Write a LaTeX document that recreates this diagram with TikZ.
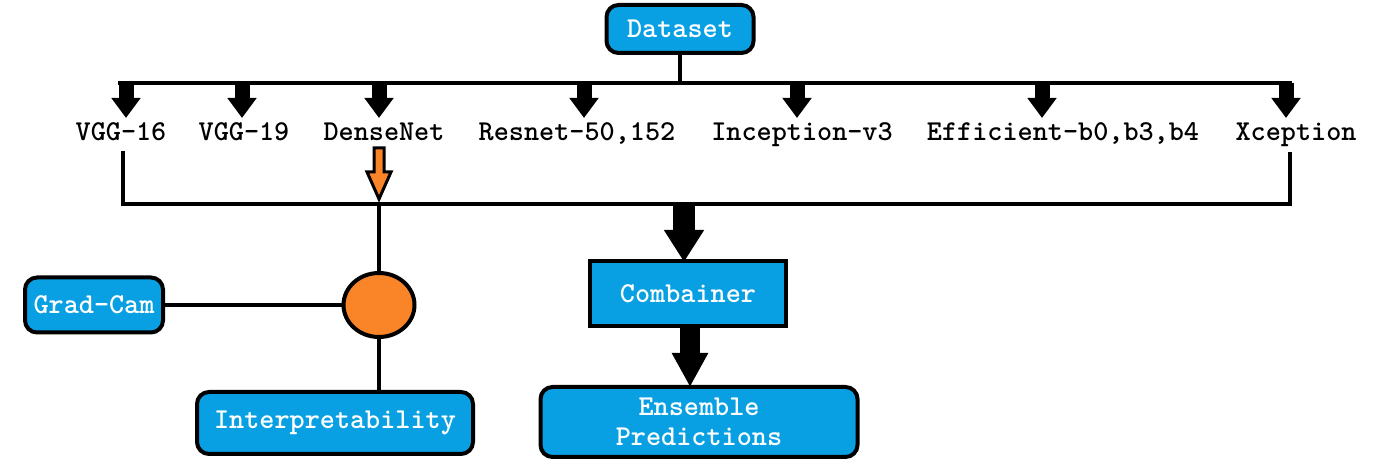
\documentclass[tikz,border=0pt]{standalone}
\usepackage{fontspec}
\usetikzlibrary{arrows.meta,shapes.geometric}
\definecolor{boxblue}{RGB}{8,160,226}
\definecolor{dotorange}{RGB}{250,132,40}
\begin{document}
\begin{tikzpicture}[x=0.5pt,y=-0.5pt,
  txt/.style={font=\ttfamily\bfseries\fontsize{14.4}{15}\selectfont},
  lbl/.style={txt, inner sep=0pt, minimum height=16pt, text height=9pt, text depth=2.5pt, anchor=north},
  bluebox/.style={txt, draw=black, line width=2pt, fill=boxblue, text=white, rounded corners=6pt, inner sep=0pt, align=center},
  thin/.style={line width=1.6pt},
  bigarrow/.style={line width=7.5pt, -{Triangle[width=14pt,length=10pt]}}
]
\useasboundingbox (0,0) rectangle (1400,474);

% top
\node[bluebox, minimum width=73.5pt, minimum height=24pt] (data) at (680,29) {Dataset};
\coordinate (b0) at (118,83);
\coordinate (b1) at (1292,83);
\draw[thin] (data.south) -- (data.south |- b0);
\draw[line width=2pt] (b0) -- (b1);

% model labels
\node[lbl] (v16) at (121,118) {VGG-16};
\node[lbl] (v19) at (244,118) {VGG-19};
\node[lbl] (dn) at (384,118) {DenseNet};
\node[lbl] (rn) at (577,118) {Resnet-50,152};
\node[lbl] (inc) at (802,118) {Inception-v3};
\node[lbl] (eff) at (1063,118) {Efficient-b0,b3,b4};
\node[lbl] (xc) at (1296,118) {Xception};

\foreach \xx/\nn in {126/v16, 242/v19, 379/dn, 584/rn, 797/inc, 1042/eff, 1286/xc}{
  \draw[bigarrow] (\xx,83) -- (\xx,118);
}

% lower collector
\coordinate (l0) at (123,204);
\coordinate (l1) at (1290,204);
\draw[thin] (123,151) -- (l0) -- (l1) -- (1290,152);

% orange arrow from DenseNet
\draw[line width=1.5pt, fill=dotorange, line join=miter]
  (374,148) -- (384,148) -- (384,172) -- (391,172) -- (379,199) -- (367,172) -- (374,172) -- cycle;

% interpretability branch
\node[ellipse, draw=black, line width=2pt, fill=dotorange, minimum width=35.5pt, minimum height=32pt, inner sep=0pt] (dot) at (379,305) {};
\node[bluebox, minimum width=69pt, minimum height=27.5pt] (grad) at (94,305) {Grad-Cam};
\node[bluebox, minimum width=138pt, minimum height=31pt] (interp) at (335,423) {Interpretability};
\draw[thin] (dot.north |- l0) -- (dot.north);
\draw[thin] (grad.east) -- (dot.west);
\draw[thin] (dot.south) -- (dot.south |- interp.north);

% ensemble branch
\node[bluebox, rounded corners=0pt, minimum width=98pt, minimum height=32.5pt] (comb) at (688,294) {Combainer};
\node[bluebox, minimum width=158.5pt, minimum height=35pt] (ens) at (699,422) {Ensemble\\Predictions};
\draw[line width=11pt, -{Triangle[width=19pt,length=16pt]}] (684,204) -- (684,262);
\draw[line width=10pt, -{Triangle[width=17pt,length=17pt]}] (690,327) -- (690,387);
\end{tikzpicture}
\end{document}
